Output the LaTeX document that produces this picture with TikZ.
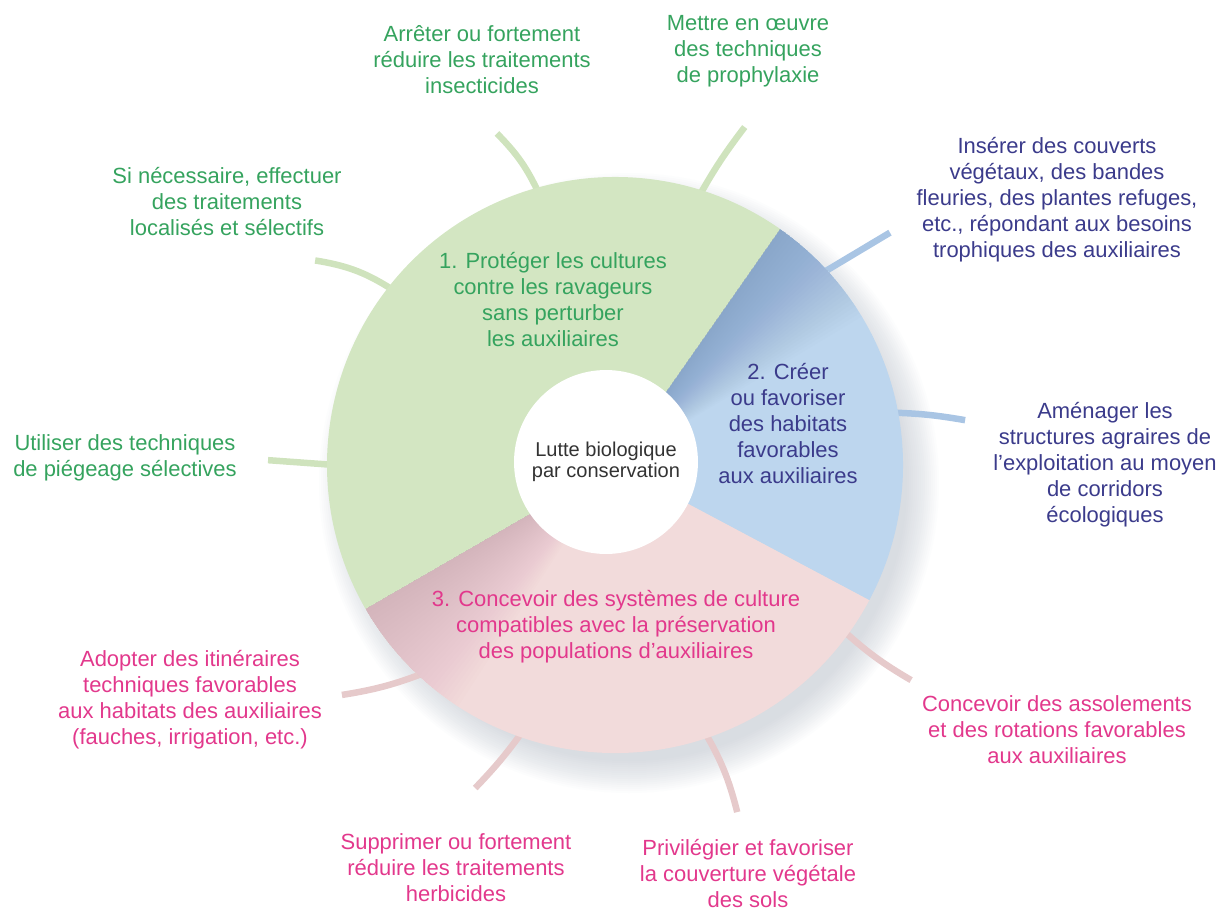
\documentclass[tikz,border=0pt]{standalone}
\usepackage{fontspec}
\setmainfont{Liberation Sans}
\definecolor{sect one}{HTML}{D3E6C2}
\definecolor{sect two}{HTML}{BDD6EE}
\definecolor{sect three}{HTML}{F2DBDB}
\definecolor{text one}{HTML}{35A35E}
\definecolor{text two}{HTML}{3B3B8B}
\definecolor{text three}{HTML}{E2388C}
\definecolor{ray one}{HTML}{CFE3BD}
\definecolor{ray two}{HTML}{A9C5E4}
\definecolor{ray three}{HTML}{E6CACB}
\definecolor{shadow}{HTML}{5A6A80}
\definecolor{shade two}{HTML}{3E5F8E}
\definecolor{shade three}{HTML}{7A4C5A}
\def\outerR{288}
\def\sectone{(0,0) -- (55:\outerR) arc (55:210:\outerR) -- cycle}
\def\secttwo{(0,0) -- (-28:\outerR) arc (-28:55:\outerR) -- cycle}
\def\sectthree{(0,0) -- (210:\outerR) arc (210:332:\outerR) -- cycle}
\tikzset{label text/.style={align=center, inner sep=0pt, font=\fontsize{12.5}{14.8}\selectfont},
	ray/.style={line width=0.13cm}}

\begin{document}
\begin{tikzpicture}[x=0.02cm,y=0.02cm]
		\useasboundingbox (-615,-445) rectangle (602,465);
		% soft shadow under the disc
		\foreach \k in {0,...,16}
			\fill[shadow, opacity=0.015] (14,-18) circle ({\outerR-10+2*\k});
		
		% rays
		\coordinate (r1a) at (105.6:280); \coordinate (r1b) at (109.6:352);
		\coordinate (r2a) at (72.7:280);  \coordinate (r2b) at (69:362);
		\coordinate (r3a) at (141.7:280); \coordinate (r3b) at (145.7:363);
		\coordinate (r4a) at (42.9:280);  \coordinate (r4b) at (40.2:360);
		\coordinate (r5a) at (10.8:280);  \coordinate (r5b) at (7.3:353);
		\coordinate (r6a) at (180:280);   \coordinate (r6b) at (179.2:347);
		\coordinate (r7a) at (-35.9:280); \coordinate (r7b) at (-36:366);
		\coordinate (r8a) at (-71.5:280); \coordinate (r8b) at (-70.6:368);
		\coordinate (r9a) at (-109:280);  \coordinate (r9b) at (-113.4:352);
		\coordinate (r10a) at (-132.3:280); \coordinate (r10b) at (-139.9:357);
		\draw[ray, ray one] (r1a) to[bend right=10] (r1b);
		\draw[ray, ray one] (r2a) to[bend left=4] (r2b);
		\draw[ray, ray one] (r3a) to[bend right=12] (r3b);
		\draw[ray, ray one] (r6a) -- (r6b);
		\draw[ray, ray two] (r4a) -- (r4b);
		\draw[ray, ray two] (r5a) to[bend left=4] (r5b);
		\draw[ray, ray three] (r7a) to[bend right=6] (r7b);
		\draw[ray, ray three] (r8a) to[bend left=8] (r8b);
		\draw[ray, ray three] (r9a) to[bend left=4] (r9b);
		\draw[ray, ray three] (r10a) to[bend left=6] (r10b);
		
		% the three sectors
		\fill[sect one] \sectone;
		\fill[sect two] \secttwo;
		\fill[sect three] \sectthree;
		\begin{scope}
			\clip \secttwo;
			\foreach \i in {1,...,30}
				\fill[shade two, opacity=0.011] (0,0) -- (55:\outerR) arc (55:55-0.8*\i:\outerR) -- cycle;
		\end{scope}
		\begin{scope}
			\clip \sectthree;
			\foreach \i in {1,...,30}
				\fill[shade three, opacity=0.008] (0,0) -- (210:\outerR) arc (210:210+0.9*\i:\outerR) -- cycle;
		\end{scope}
		
		\node[circle, fill=white, minimum size=3.68cm, inner sep=0pt, align=center,
			font=\fontsize{11.4}{12}\selectfont, text=black!80] (core) at (-9,3)
			{Lutte biologique\\par conservation};
		
		% sector labels
		\node[label text, text one] (s1) at (-62,165) {1. Protéger les cultures\\contre les ravageurs\\sans perturber\\les auxiliaires};
		\node[label text, text two] (s2) at (173,41) {2. Créer\\ou favoriser\\des habitats\\favorables\\aux auxiliaires};
		\node[label text, text three] (s3) at (1,-162) {3. Concevoir des systèmes de culture\\compatibles avec la préservation\\des populations d’auxiliaires};
		
		% outer actions
		\node[label text, text one] (arreter) at (-133,405) {Arrêter ou fortement\\réduire les traitements\\insecticides};
		\node[label text, text one] (mettre) at (133,414) {Mettre en œuvre\\des techniques\\de prophylaxie};
		\node[label text, text one] (traiter) at (-388,263) {Si nécessaire, effectuer\\des traitements\\localisés et sélectifs};
		\node[label text, text one] (pieger) at (-490,7) {Utiliser des techniques\\de piégeage sélectives};
		\node[label text, text two] (inserer) at (442,265) {Insérer des couverts\\végétaux, des bandes\\fleuries, des plantes refuges,\\etc., répondant aux besoins\\trophiques des auxiliaires};
		\node[label text, text two] (amenager) at (490,0) {Aménager les\\structures agraires de\\l’exploitation au moyen\\de corridors\\écologiques};
		\node[label text, text three] (assoler) at (442,-265) {Concevoir des assolements\\et des rotations favorables\\aux auxiliaires};
		\node[label text, text three] (couvrir) at (133,-409) {Privilégier et favoriser\\la couverture végétale\\des sols};
		\node[label text, text three] (supprimer) at (-159,-403) {Supprimer ou fortement\\réduire les traitements\\herbicides};
		\node[label text, text three] (adopter) at (-425,-235) {Adopter des itinéraires\\techniques favorables\\aux habitats des auxiliaires\\(fauches, irrigation, etc.)};
\end{tikzpicture}
\end{document}
